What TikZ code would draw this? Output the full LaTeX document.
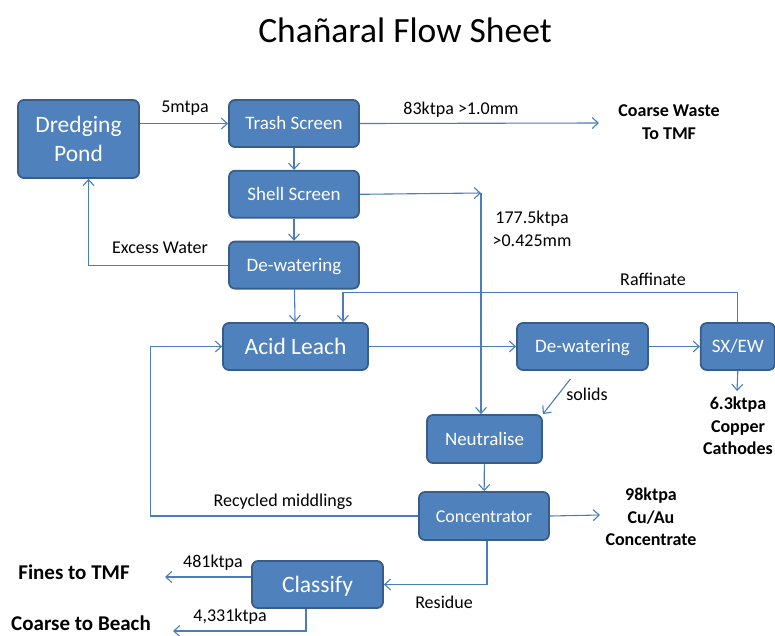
\documentclass[tikz,border=0pt]{standalone}
\usepackage{fontspec}
\setmainfont{Carlito}
\usetikzlibrary{arrows.meta, positioning}
\definecolor{boxfill}{HTML}{4F81BD}
\definecolor{boxedge}{HTML}{385D8A}
\definecolor{flowblue}{HTML}{4A7EBB}
\newcommand\smallboxfont{\fontsize{19}{22}\selectfont}
\newcommand\bigboxfont{\fontsize{23.5}{29}\selectfont}
\newcommand\lblfont{\fontsize{18}{22.5}\selectfont}

\begin{document}
\begin{tikzpicture}[x=1pt, y=-1pt,
    proc/.style={draw=boxedge, fill=boxfill, text=white, line width=1.8pt,
        rounded corners=6pt, minimum height=47pt, inner sep=0pt,
        text height=13pt, text depth=1pt, font=\smallboxfont},
    bigproc/.style={proc, text height=16pt, text depth=1pt, font=\bigboxfont},
    flow/.style={draw=flowblue, line width=1.1pt, -{Straight Barb[length=6pt,width=11pt]}},
    lbl/.style={inner sep=0pt, font=\lblfont, align=center},
    product/.style={lbl, font=\lblfont\bfseries},
    bigproduct/.style={lbl, font=\fontsize{21}{25}\selectfont\bfseries},
]
\useasboundingbox (0,0) rectangle (775,635);

\node (title) at (405,30) {\fontsize{35.5}{40}\selectfont Chañaral Flow Sheet};

% process boxes
\node (pond) [proc, font=\bigboxfont, text height=, text depth=, align=center,
    minimum width=121pt, minimum height=78pt] at (78.5,139) {Dredging\\Pond};
\node (trash) [proc, minimum width=130pt] at (294,123.5) {Trash Screen};
\node (shell) [proc, minimum width=130pt, below=22pt of trash] {Shell Screen};
\node (dewA) [proc, minimum width=130pt, below=22pt of shell] {De-watering};
\node (leach) [bigproc, minimum width=145pt] at (295.5,346.5) {Acid Leach};
\node (dewB) [proc, minimum width=131pt] at (582.5,346.5) {De-watering};
\node (sxew) [proc, minimum width=74pt, right=51pt of dewB] {SX/EW};
\node (neut) [proc, minimum width=115pt, minimum height=48pt] at (484.5,439) {Neutralise};
\node (conc) [proc, minimum width=130pt, minimum height=48pt, font=\fontsize{18}{21}\selectfont] at (484,516) {Concentrator};
\node (classify) [bigproc, minimum width=131pt] at (317.5,584.5) {Classify};

% products
\node (coarsewaste) [product] at (669,122) {Coarse Waste\\To TMF};
\node (cathodes) [product] at (738,426) {6.3ktpa\\Copper\\Cathodes};
\node (concprod) [product] at (651,517) {98ktpa\\Cu/Au\\Concentrate};
\node (fines) [bigproduct, anchor=base] at (74,579) {Fines to TMF};
\node (beach) [bigproduct, anchor=base] at (81,630) {Coarse to Beach};

\coordinate (wasteend) at (599,123);
\coordinate (split) at (481,193);
\coordinate (cathend) at (737,391);
\coordinate (concend) at (600,515);
\coordinate (finesend) at (165,577);
\coordinate (beachend) at (173,631);

% flows
\draw[flow] (pond.east |- trash.west) -- (trash.west);
\draw[flow] (trash.east) -- (wasteend);
\draw[flow] (trash) -- (shell);
\draw[flow] (shell.east) -- (split);
\draw[flow] (split) -- (split |- neut.north);
\draw[flow] (shell) -- (dewA);
\draw[flow] (dewA.west) -| ([xshift=10pt]pond.south);
\draw[flow] (dewA) -- (leach);
\draw[flow] (sxew.north) -- ++(0,-30) -| ([xshift=47.5pt]leach.north);
\draw[flow] (leach) -- (dewB);
\draw[flow] (dewB) -- (sxew);
\draw[flow] (sxew.south) -- (cathend);
\draw[flow] ([xshift=-12pt,yshift=-8pt]dewB.south) -- (neut.north east);
\draw[flow] (neut) -- (conc);
\draw[flow] (conc.east) -- (concend);
\draw[flow] (conc.west) -| ([xshift=-72pt]leach.west) -- (leach.west);
\draw[flow] ([xshift=3pt]conc.south) |- (classify.east);
\draw[flow] ([yshift=7.5pt]classify.west) -- (finesend);
\draw[flow] ([xshift=-11.5pt]classify.south) |- (beachend);

% flow labels
\node (lfeed) [lbl] at (185,108) {5mtpa};
\node (lwaste) [lbl] at (461,110) {83ktpa >1.0mm};
\node (lshell) [lbl] at (532,229) {177.5ktpa\\>0.425mm};
\node (lwater) [lbl] at (160,248) {Excess Water};
\node (lraff) [lbl] at (653,279) {Raffinate};
\node (lsolids) [lbl] at (587,394) {solids};
\node (lmid) [lbl] at (283,502) {Recycled middlings};
\node (lres) [lbl] at (444,602) {Residue};
\node (lfines) [lbl] at (213,563) {481ktpa};
\node (lbeach) [lbl] at (230,617) {4,331ktpa};
\end{tikzpicture}
\end{document}
